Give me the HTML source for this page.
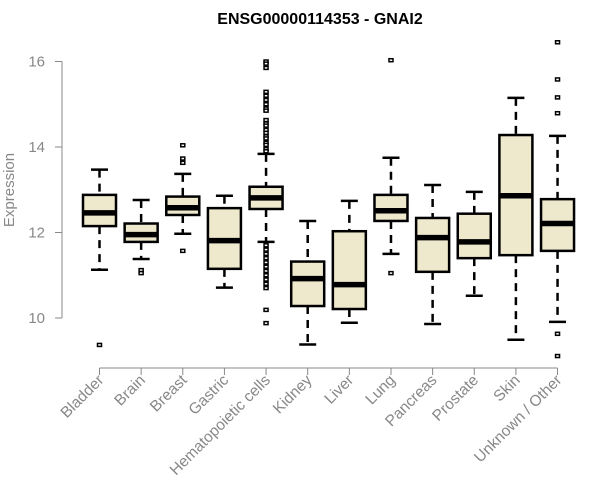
<!DOCTYPE html>
<html><head><meta charset="utf-8"><style>
body{margin:0;background:#fff}
svg{display:block;font-family:"Liberation Sans",Arial,sans-serif}
</style></head><body>
<svg id="chart" width="600" height="500">
<text x="320" y="24" text-anchor="middle" font-size="16" font-weight="bold">ENSG00000114353 - GNAI2</text>
<text transform="translate(14,190) rotate(-90)" text-anchor="middle" font-size="15" fill="#888">Expression</text>
<g id="yaxis"></g>
<g id="xaxis"></g>
<g id="boxes"></g>
</svg>
<script>
const categories=["Bladder","Brain","Breast","Gastric","Hematopoietic cells","Kidney","Liver","Lung","Pancreas","Prostate","Skin","Unknown / Other"];
const lowWhisker=[11.13,11.38,11.97,10.71,11.78,9.38,9.89,11.50,9.86,10.52,9.49,9.91];
const q1=[12.15,11.78,12.41,11.15,12.55,10.28,10.21,12.27,11.08,11.40,11.47,11.57];
const medians=[12.46,11.95,12.58,11.81,12.81,10.92,10.78,12.51,11.88,11.78,12.86,12.21];
const q3=[12.88,12.21,12.84,12.57,13.07,11.32,12.03,12.88,12.34,12.44,14.28,12.78];
const highWhisker=[13.47,12.76,13.37,12.86,13.84,12.27,12.74,13.75,13.11,12.95,15.15,14.26];
const outliers=[[9.37],[11.12,11.05],[14.04,13.73,13.63,11.57],[],
[16.0,15.95,15.85,15.29,15.2,15.1,15.0,14.9,14.85,14.63,14.55,14.5,14.4,14.33,14.25,14.2,14.1,14.05,13.95,13.9,11.7,11.6,11.5,11.4,11.3,11.2,11.1,11.0,10.9,10.8,10.7,10.19,9.88],
[],[],[16.03,11.05],[],[],[],[16.45,15.58,15.16,14.79,9.63,9.11]];
const yTicks=[10,12,14,16];
const NS="http://www.w3.org/2000/svg";
const yS=v=>318-(v-10)*42.75;
const xS=i=>99.5+i*41.64;
function mk(p,t,a){const e=document.createElementNS(NS,t);for(const k in a)e.setAttribute(k,a[k]);p.appendChild(e);return e;}
const ya=document.getElementById('yaxis'),xa=document.getElementById('xaxis'),bx=document.getElementById('boxes');
mk(ya,'line',{x1:62,x2:62,y1:yS(16),y2:yS(10),stroke:'#888'});
yTicks.forEach(t=>{
 const tk=mk(ya,'line',{x1:55,x2:62,y1:yS(t),y2:yS(t),stroke:'#888'});
 
 
 const tx=mk(ya,'text',{x:45,y:yS(t)+5,'text-anchor':'end','font-size':15,fill:'#888'});
 tx.textContent=t;
 
 
});
mk(xa,'line',{x1:xS(0),x2:xS(11),y1:368,y2:368,stroke:'#888'});
categories.forEach((c,i)=>{
 const x=xS(i);
 const tk=mk(xa,'line',{x1:x,x2:x,y1:368,y2:375,stroke:'#888'});
 
 
 const tx=mk(xa,'text',{transform:`translate(${x+5},${381}) rotate(-45)`,'text-anchor':'end','font-size':15.5,fill:'#888'});
 tx.textContent=c;
 
 
 const g=mk(bx,'g',{});
 
 
 const hw=16.5,cw=8.5;
 mk(g,'line',{x1:x,x2:x,y1:yS(highWhisker[i]),y2:yS(q3[i]),stroke:'#000','stroke-width':2.5,'stroke-dasharray':'8,6'});
 mk(g,'line',{x1:x,x2:x,y1:yS(q1[i]),y2:yS(lowWhisker[i]),stroke:'#000','stroke-width':2.5,'stroke-dasharray':'8,6'});
 mk(g,'line',{x1:x-cw,x2:x+cw,y1:yS(highWhisker[i]),y2:yS(highWhisker[i]),stroke:'#000','stroke-width':2.5});
 mk(g,'line',{x1:x-cw,x2:x+cw,y1:yS(lowWhisker[i]),y2:yS(lowWhisker[i]),stroke:'#000','stroke-width':2.5});
 mk(g,'rect',{x:x-hw,y:yS(q3[i]),width:hw*2,height:yS(q1[i])-yS(q3[i]),fill:'#EEE8CD',stroke:'#000','stroke-width':2.5});
 mk(g,'line',{x1:x-hw,x2:x+hw,y1:yS(medians[i]),y2:yS(medians[i]),stroke:'#000','stroke-width':5.5});
 outliers[i].forEach(v=>{
  const o=mk(g,'rect',{x:x-2,y:yS(v)-1.5,width:4,height:3,fill:'#fff',stroke:'#000','stroke-width':1.5});
  
  
 });
});
</script>
</body></html>
